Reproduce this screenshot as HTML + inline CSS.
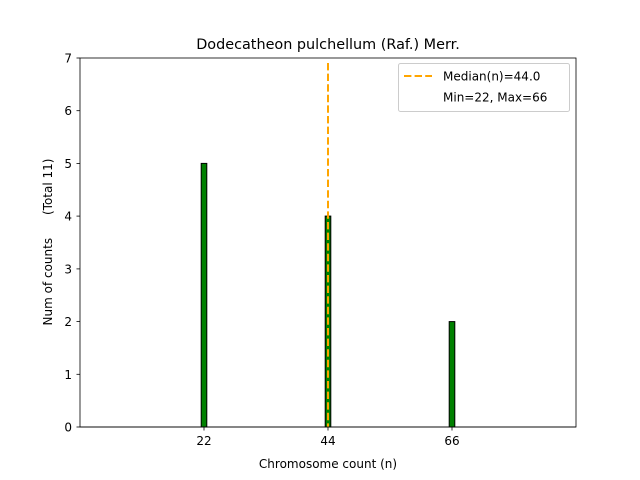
<!DOCTYPE html>
<html><head><style>body{margin:0;background:#fff}svg{display:block}</style></head><body>
<svg width="640" height="480" xmlns="http://www.w3.org/2000/svg" font-family="'DejaVu Sans', sans-serif">
<rect width="640" height="480" fill="#fff"/>
<text x="328" y="49" font-size="14.4" text-anchor="middle">Dodecatheon pulchellum (Raf.) Merr.</text>
<rect x="201.2" y="163.4" width="5.6" height="263.6" fill="green" stroke="#000" stroke-width="1"/>
<rect x="325.2" y="216.1" width="5.6" height="210.9" fill="green" stroke="#000" stroke-width="1"/>
<rect x="449.2" y="321.6" width="5.6" height="105.4" fill="green" stroke="#000" stroke-width="1"/>
<line x1="80" y1="427" x2="576" y2="427" stroke="#000" stroke-width="0.8"/>
<line x1="328" y1="63" x2="328" y2="427" stroke="orange" stroke-width="2" stroke-dasharray="7.4,3.2"/>
<rect x="80" y="58" width="496" height="369" fill="none" stroke="#000" stroke-width="0.8"/>
<g font-size="12" fill="#000">
<g stroke="#000" stroke-width="0.8">
<line x1="204" y1="427" x2="204" y2="430.5"/><line x1="328" y1="427" x2="328" y2="430.5"/><line x1="452" y1="427" x2="452" y2="430.5"/>
<line x1="80" y1="427" x2="76.5" y2="427"/><line x1="80" y1="374.3" x2="76.5" y2="374.3"/><line x1="80" y1="321.6" x2="76.5" y2="321.6"/><line x1="80" y1="268.9" x2="76.5" y2="268.9"/><line x1="80" y1="216.1" x2="76.5" y2="216.1"/><line x1="80" y1="163.4" x2="76.5" y2="163.4"/><line x1="80" y1="110.7" x2="76.5" y2="110.7"/><line x1="80" y1="58" x2="76.5" y2="58"/>
</g>
<g text-anchor="middle"><text x="204" y="445">22</text><text x="328" y="445">44</text><text x="452" y="445">66</text></g>
<g text-anchor="end"><text x="72" y="431.5">0</text><text x="72" y="378.8">1</text><text x="72" y="326.1">2</text><text x="72" y="273.4">3</text><text x="72" y="220.6">4</text><text x="72" y="167.9">5</text><text x="72" y="115.2">6</text><text x="72" y="62.5">7</text></g>
<text x="328" y="468" text-anchor="middle">Chromosome count (n)</text>
<text transform="translate(52,242) rotate(-90)" text-anchor="middle" style="white-space:pre" xml:space="preserve">Num of counts      (Total 11)</text>
</g>
<rect x="398.5" y="63.5" width="171" height="48" rx="2" fill="#fff" fill-opacity="0.8" stroke="#ccc"/>
<line x1="404" y1="76" x2="432" y2="76" stroke="orange" stroke-width="2" stroke-dasharray="7.4,3.2"/>
<text x="443" y="80.5" font-size="12">Median(n)=44.0</text>
<text x="443" y="101.5" font-size="12">Min=22, Max=66</text>
</svg>
</body></html>
